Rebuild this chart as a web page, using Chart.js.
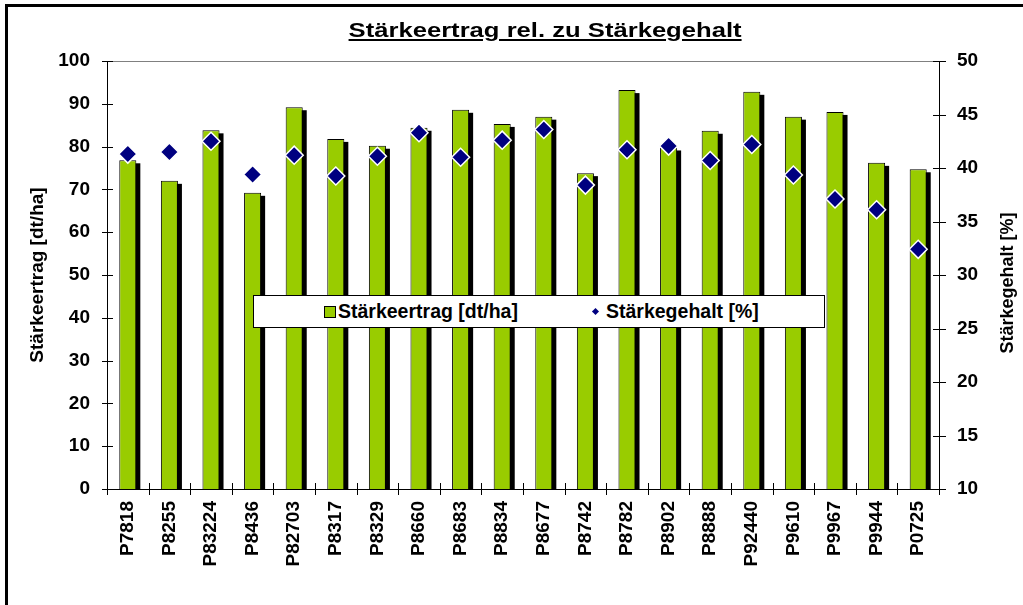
<!DOCTYPE html>
<html><head><meta charset="utf-8">
<script src="https://cdn.jsdelivr.net/npm/chart.js@4"></script>
<style>
html,body{margin:0;padding:0;background:#fff;overflow:hidden;}
#wrap{position:relative;width:1023px;height:605px;overflow:hidden;font-family:"Liberation Sans",Arial,sans-serif;}
#chart{position:absolute;left:0;top:0;}
#frame{position:absolute;left:5px;top:4px;width:1100px;height:700px;border-left:3px solid #000;border-top:3px solid #000;pointer-events:none;}
#title{position:absolute;left:0;top:19px;width:1090px;text-align:center;}
#title span{display:inline-block;font-weight:bold;font-size:21px;line-height:21px;white-space:nowrap;text-decoration:underline;transform:scaleX(1.22);}
#legend{position:absolute;left:253px;top:295px;width:570px;height:31px;border:1px solid #000;background:#fff;font-weight:bold;font-size:19.5px;line-height:31px;white-space:nowrap;}
#legend .sw{position:absolute;left:70px;top:10px;width:10px;height:10px;background:#99cc00;border:1px solid #000;}
#legend .dm{position:absolute;left:339px;top:13px;width:5px;height:5px;background:#000080;transform:rotate(45deg);}
#legend .t1{position:absolute;left:84px;top:0;}
#legend .t2{position:absolute;left:352px;top:0;}
</style>
</head><body>
<div id="wrap">
<canvas id="chart" width="1023" height="605"></canvas>
<div id="title"><span>Stärkeertrag rel. zu Stärkegehalt</span></div>
<div id="legend"><div class="sw"></div><div class="t1">Stärkeertrag [dt/ha]</div><div class="dm"></div><div class="t2">Stärkegehalt [%]</div></div>
<div id="frame"></div>
</div>
<script>
const categories = ['P7818','P8255','P83224','P8436','P82703','P8317','P8329','P8660','P8683','P8834','P8677','P8742','P8782','P8902','P8888','P92440','P9610','P9967','P9944','P0725'];
const staerkeertrag = [76.8, 72.0, 83.8, 69.2, 89.2, 81.8, 80.2, 84.4, 88.6, 85.3, 87.0, 73.8, 93.2, 79.8, 83.7, 92.8, 87.0, 88.1, 76.2, 74.7];
const staerkegehalt = [41.3, 41.5, 42.5, 39.4, 41.2, 39.25, 41.1, 43.3, 41.0, 42.6, 43.6, 38.4, 41.7, 42.05, 40.7, 42.2, 39.35, 37.1, 36.1, 32.4];
const leftTicks = {min: 0, max: 100, step: 10};
const rightTicks = {min: 10, max: 50, step: 5};
const leftTitle = 'Stärkeertrag [dt/ha]';
const rightTitle = 'Stärkegehalt [%]';

const FONT = '"Liberation Sans", Arial, sans-serif';

const barShadow = {
  id: 'barShadow',
  beforeDatasetDraw(chart, args) {
    if (args.index !== 0) return;
    const {ctx, chartArea: a} = chart;
    const meta = chart.getDatasetMeta(0);
    ctx.save();
    ctx.beginPath();
    ctx.rect(a.left, a.top, a.right - a.left, a.bottom - a.top);
    ctx.clip();
    ctx.fillStyle = '#000';
    meta.data.forEach(b => {
      const p = b.getProps(['x', 'y', 'base', 'width'], true);
      ctx.fillRect(p.x - p.width / 2 + 4, p.y + 3, p.width, p.base - p.y);
    });
    ctx.restore();
  }
};

const axisDecor = {
  id: 'axisDecor',
  afterDraw(chart) {
    const {ctx, chartArea: a, scales: {x, y, y1}} = chart;
    ctx.save();
    ctx.strokeStyle = '#808080';
    ctx.lineWidth = 1;
    ctx.beginPath();
    ctx.moveTo(a.left, Math.round(a.top) + 0.5);
    ctx.lineTo(a.right, Math.round(a.top) + 0.5);
    ctx.stroke();
    ctx.strokeStyle = '#000';
    ctx.beginPath();
    y.ticks.forEach((t, i) => {
      const p = Math.round(y.getPixelForTick(i)) + 0.5;
      ctx.moveTo(a.left - 5, p); ctx.lineTo(a.left + 6, p);
    });
    y1.ticks.forEach((t, i) => {
      const p = Math.round(y1.getPixelForTick(i)) + 0.5;
      ctx.moveTo(a.right - 6, p); ctx.lineTo(a.right + 7, p);
    });
    for (let i = 0; i <= categories.length; i++) {
      const p = Math.round(x.getPixelForValue(i - 0.5)) + 0.5;
      ctx.moveTo(p, a.bottom - 6); ctx.lineTo(p, a.bottom + 6);
    }
    ctx.stroke();
    ctx.fillStyle = '#000';
    ctx.font = 'bold 18px ' + FONT;
    ctx.textAlign = 'center';
    ctx.textBaseline = 'middle';
    ctx.translate(1008, 283);
    ctx.rotate(-Math.PI / 2);
    ctx.fillText(rightTitle, 0, 0);
    ctx.restore();
  }
};

new Chart(document.getElementById('chart'), {
  data: {
    labels: categories,
    datasets: [
      {
        type: 'bar',
        label: 'Stärkeertrag [dt/ha]',
        data: staerkeertrag,
        backgroundColor: '#99cc00',
        borderColor: '#000',
        borderWidth: 1,
        barPercentage: 0.41,
        categoryPercentage: 1,
        yAxisID: 'y',
        order: 2
      },
      {
        type: 'line',
        label: 'Stärkegehalt [%]',
        data: staerkegehalt,
        showLine: false,
        pointStyle: 'rectRot',
        pointRadius: 9,
        pointBackgroundColor: '#000080',
        pointBorderColor: '#fff',
        pointBorderWidth: 1.5,
        yAxisID: 'y1',
        order: 1
      }
    ]
  },
  options: {
    responsive: false,
    animation: false,
    devicePixelRatio: 1,
    layout: {padding: {top: 61, left: 0, right: 0, bottom: 0}},
    plugins: {legend: {display: false}, title: {display: false}, tooltip: {enabled: false}},
    scales: {
      x: {
        grid: {display: false, drawTicks: false},
        border: {display: true, color: '#000', width: 1},
        ticks: {color: '#000', font: {family: FONT, size: 19, weight: 'bold'}, minRotation: 90, maxRotation: 90, autoSkip: false, padding: 12},
        afterFit(s) { s.height = 116; }
      },
      y: {
        position: 'left',
        min: leftTicks.min, max: leftTicks.max,
        grid: {display: false, drawTicks: false},
        border: {display: true, color: '#000', width: 1},
        ticks: {stepSize: leftTicks.step, color: '#000', font: {family: FONT, size: 19, weight: 'bold'}, padding: 17},
        title: {display: true, text: leftTitle, color: '#000', font: {family: FONT, size: 19, weight: 'bold'}, padding: {top: 26, bottom: 0}},
        afterFit(s) { s.width = 107; }
      },
      y1: {
        position: 'right',
        min: rightTicks.min, max: rightTicks.max,
        grid: {display: false, drawTicks: false},
        border: {display: true, color: '#000', width: 1},
        ticks: {stepSize: rightTicks.step, color: '#000', font: {family: FONT, size: 19, weight: 'bold'}, padding: 18},
        afterFit(s) { s.width = 84; }
      }
    }
  },
  plugins: [barShadow, axisDecor]
});
</script>
</body></html>
